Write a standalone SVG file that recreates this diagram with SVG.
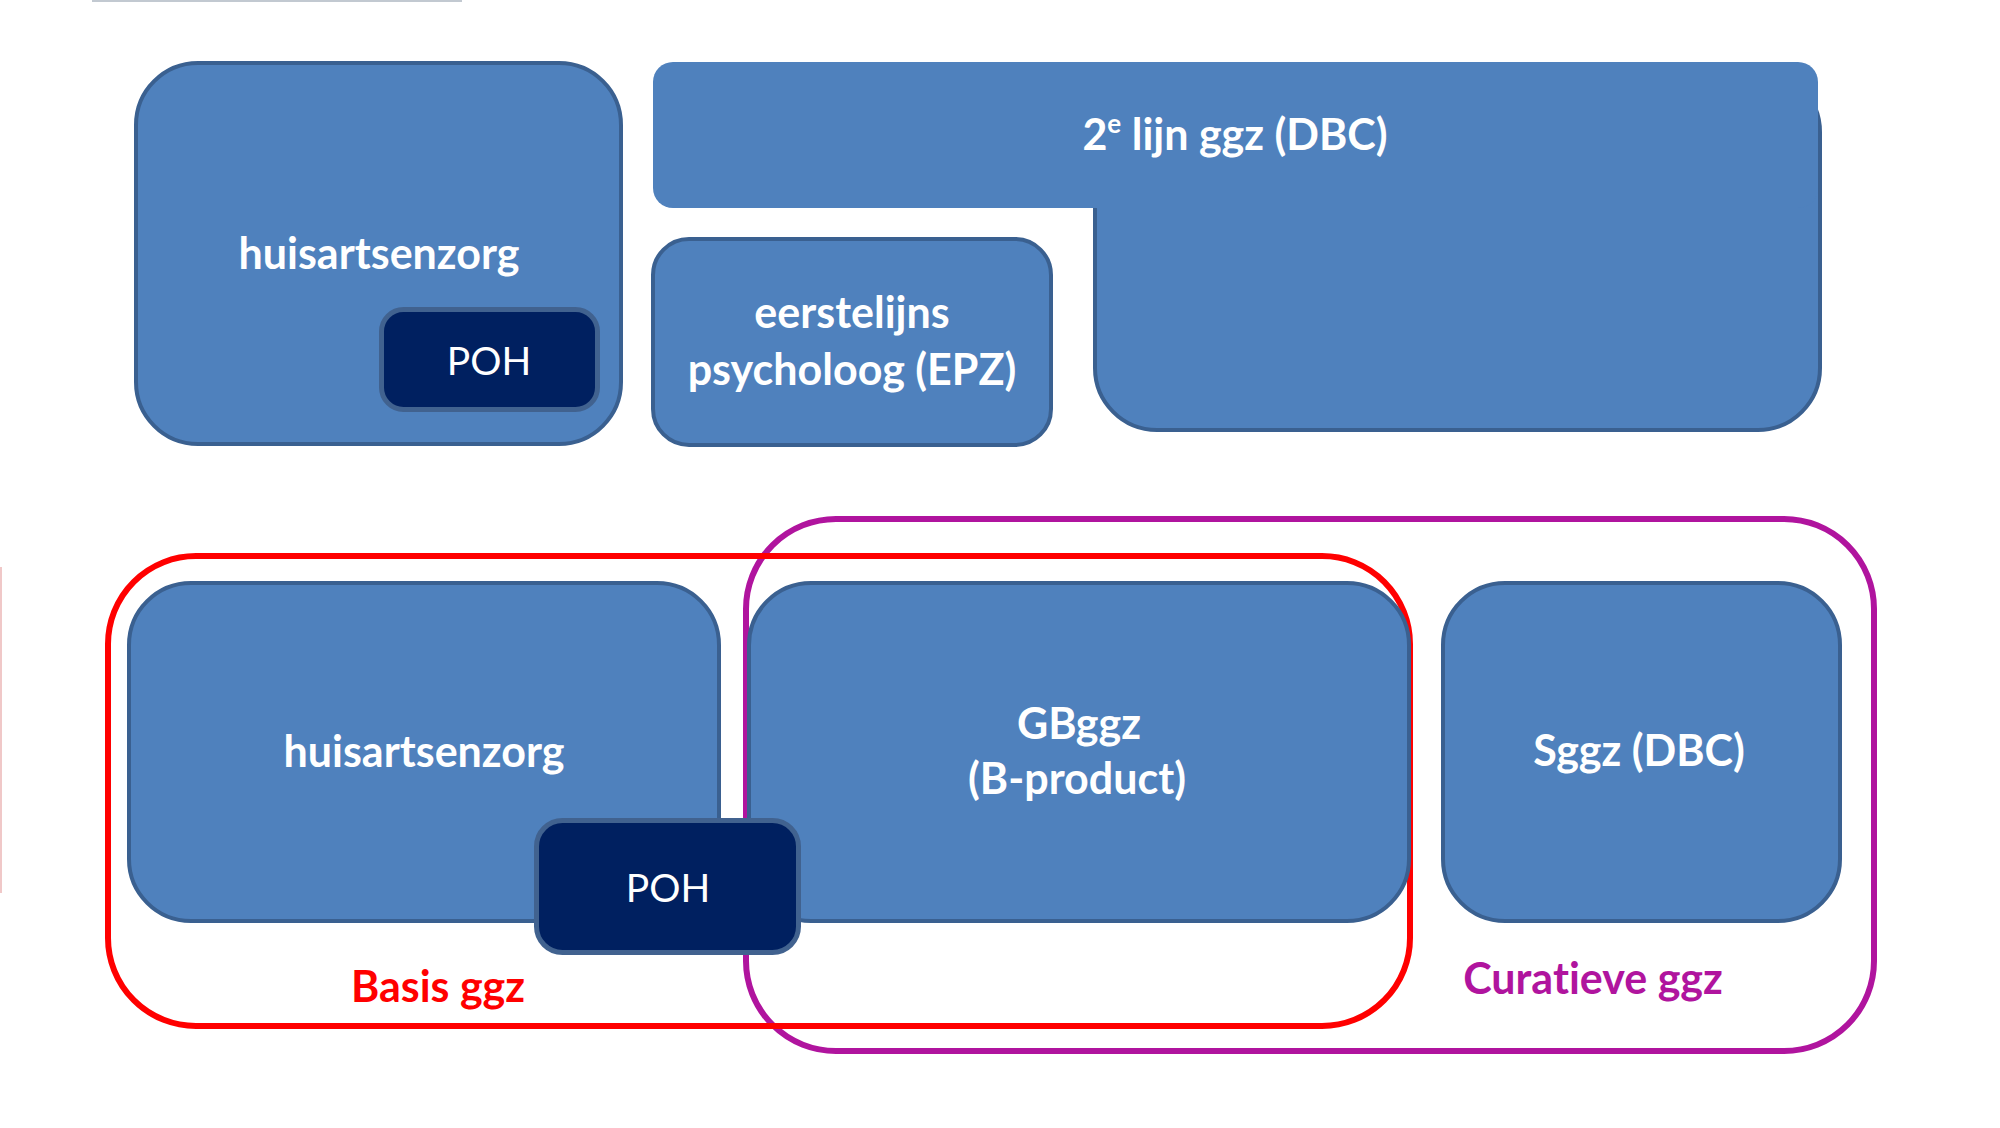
<svg xmlns="http://www.w3.org/2000/svg" width="2000" height="1128" viewBox="0 0 2000 1128">
<style>
.box{fill:#4f81bd;stroke:#3a6090;stroke-width:4}
.poh{fill:#002060;stroke:#41628f;stroke-width:5}
text{font-variant-ligatures:none}
.t{font-family:Lato,"Open Sans","Liberation Sans",sans-serif;font-weight:bold;font-size:43px;fill:#ffffff;text-anchor:middle}
.tp{font-family:Lato,"Open Sans","Liberation Sans",sans-serif;font-weight:normal;font-size:39px;fill:#ffffff;text-anchor:middle}
.lbl{font-family:Lato,"Open Sans","Liberation Sans",sans-serif;font-weight:bold;font-size:43px;text-anchor:middle}
</style>
<rect x="0" y="0" width="2000" height="1128" fill="#ffffff"/>
<rect x="92" y="0" width="370" height="2" fill="#c2c9d1"/>
<rect x="0" y="567" width="2" height="326" fill="#f0c8c8"/>

<g id="top-huisartsenzorg">
<rect class="box" x="136" y="63" width="485" height="381" rx="62"/>
<text class="t" x="379" y="269">huisartsenzorg</text>
</g>
<g id="top-poh">
<rect class="poh" x="381.5" y="309.5" width="216" height="100" rx="22"/>
<text class="tp" x="489" y="375">POH</text>
</g>
<g id="tweede-lijn">
<rect class="box" x="1095" y="70" width="725" height="360" rx="62"/>
<rect x="653" y="62" width="1165" height="146" rx="20" fill="#4f81bd"/>
<text class="t" x="1235" y="150">2<tspan font-size="26" dy="-17">e</tspan><tspan dy="17"> lijn ggz (DBC)</tspan></text>
</g>
<g id="eerstelijns">
<rect class="box" x="653" y="239" width="398" height="206" rx="36"/>
<text class="t" x="852" y="328">eerstelijns</text>
<text class="t" x="852" y="385">psycholoog (EPZ)</text>
</g>

<g id="connectors">
<rect id="curatieve-ggz" x="746" y="519" width="1128" height="532" rx="90" fill="none" stroke="#b0149e" stroke-width="6"/>
<rect id="basis-ggz" x="108" y="556" width="1302" height="470" rx="88" fill="none" stroke="#ff0000" stroke-width="6"/>
</g>

<g id="bottom-huisartsenzorg">
<rect class="box" x="129" y="583" width="590" height="338" rx="62"/>
<text class="t" x="424" y="767">huisartsenzorg</text>
</g>
<g id="gbggz">
<rect class="box" x="749" y="583" width="660" height="338" rx="62"/>
<text class="t" x="1079" y="739">GBggz</text>
<text class="t" x="1077" y="794">(B-product)</text>
</g>
<g id="sggz">
<rect class="box" x="1443" y="583" width="397" height="338" rx="62"/>
<text class="t" x="1639" y="766">Sggz (DBC)</text>
</g>
<g id="bottom-poh">
<rect class="poh" x="536.5" y="820.5" width="262" height="132" rx="26"/>
<text class="tp" x="668" y="902">POH</text>
</g>
<g id="labels">
<text class="lbl" x="438" y="1002" fill="#ff0000">Basis ggz</text>
<text class="lbl" x="1593" y="994" fill="#b0149e">Curatieve ggz</text>
</g>
</svg>
